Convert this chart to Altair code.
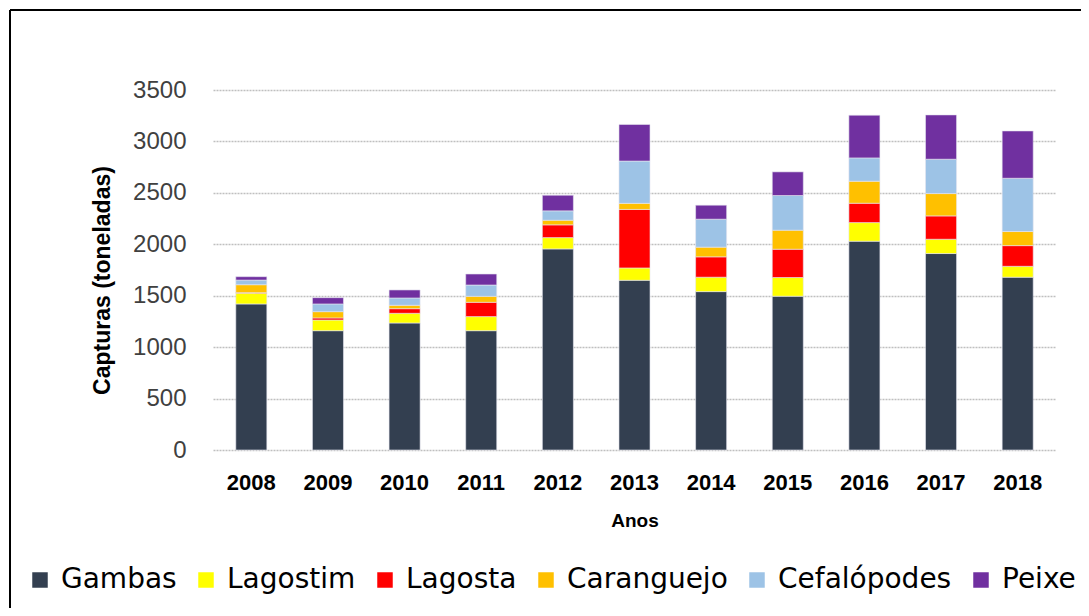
import altair as alt
import pandas as pd

years = ["2008", "2009", "2010", "2011", "2012", "2013", "2014", "2015", "2016", "2017", "2018"]
species = ["Gambas", "Lagostim", "Lagosta", "Caranguejo", "Cefalópodes", "Peixe"]
colors = ["#333F50", "#FFFF00", "#FF0000", "#FFC000", "#9DC3E6", "#7030A0"]

gambas = [1420, 1160, 1235, 1160, 1955, 1650, 1540, 1495, 2030, 1910, 1680]
lagostim = [105, 104, 94, 137, 110, 120, 140, 182, 181, 139, 106]
lagosta = [5, 20, 45, 139, 124, 569, 198, 275, 188, 227, 201]
caranguejo = [77, 61, 33, 58, 45, 59, 94, 185, 214, 217, 137]
cefalopodes = [45, 75, 71, 110, 91, 411, 272, 337, 227, 334, 518]
peixe = [33, 61, 78, 107, 152, 356, 136, 230, 415, 431, 460]

series = [gambas, lagostim, lagosta, caranguejo, cefalopodes, peixe]
rows = []
for i, (name, vals) in enumerate(zip(species, series)):
    for y, v in zip(years, vals):
        rows.append({"Ano": y, "Espécie": name, "Valor": v, "idx": i})
df = pd.DataFrame(rows)

bars = alt.Chart(df).mark_bar(stroke="#e6e6f0", strokeWidth=0.6).encode(
    x=alt.X("Ano:N", sort=years,
            scale=alt.Scale(paddingInner=0.595, paddingOuter=0.2975),
            axis=alt.Axis(title="Anos", labelAngle=0, labelFont="Liberation Sans",
                          labelFontWeight="bold", labelFontSize=22, labelColor="#000000",
                          labelPadding=22, titleFont="Liberation Sans", titleFontSize=19,
                          titleFontWeight="bold", titleColor="#000000", titlePadding=18,
                          domain=False, ticks=False, grid=False)),
    y=alt.Y("Valor:Q", stack="zero",
            scale=alt.Scale(domain=[0, 3500], nice=False),
            axis=alt.Axis(title="Capturas (toneladas)", values=[0, 500, 1000, 1500, 2000, 2500, 3000, 3500],
                          format="d",
                          labelFont="Liberation Sans", labelFontSize=24, labelColor="#404040",
                          labelPadding=27, titleFont="Liberation Sans", titleFontSize=23,
                          titleFontWeight="bold", titleColor="#000000", titlePadding=18,
                          titleY=190,
                          domain=False, ticks=False, grid=True, gridColor="#bfbfbf",
                          gridDash=[2, 1], gridWidth=1.5)),
    color=alt.Color("Espécie:N", scale=alt.Scale(domain=species, range=colors),
                    legend=alt.Legend(title=None, orient="none", direction="horizontal",
                                      columns=6, legendX=-187, legendY=476,
                                      symbolType="square", symbolSize=240,
                                      symbolStrokeWidth=0, labelFont="DejaVu Sans",
                                      labelFontSize=28, labelColor="#000000",
                                      labelOffset=7, columnPadding=15, labelLimit=400)),
    order=alt.Order("idx:Q", sort="ascending"),
)

frame_top = alt.Chart(df).mark_rule(color="#000000", strokeWidth=1.5).encode(
    x=alt.value(-203), x2=alt.value(900), y=alt.value(-80)
)
frame_left = alt.Chart(df).mark_rule(color="#000000", strokeWidth=1.5).encode(
    x=alt.value(-203), y=alt.value(-80), y2=alt.value(600)
)

chart = alt.layer(bars, frame_top, frame_left).properties(
    width=843, height=360,
    autosize=alt.AutoSizeParams(type="none"),
    padding={"left": 205, "top": 82, "right": 25, "bottom": 158},
).configure_view(stroke=None)

chart.save("out.html", embed_options={"renderer": "svg", "actions": False})
